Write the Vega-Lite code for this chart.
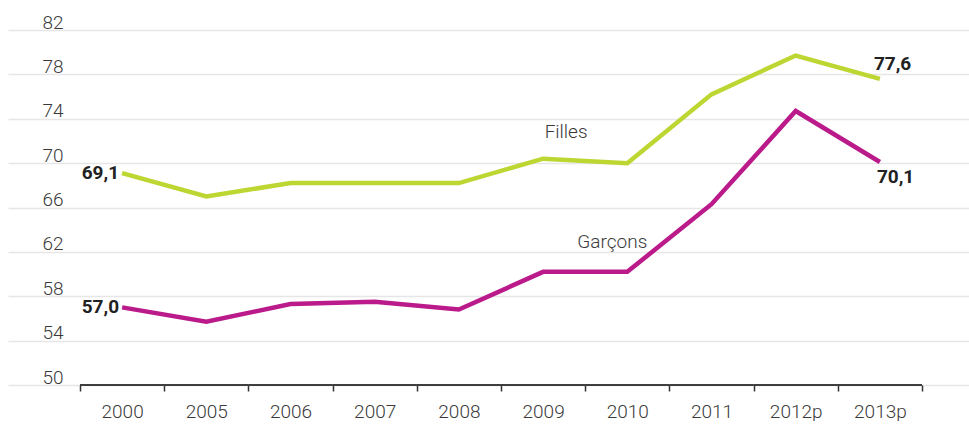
{
  "$schema": "https://vega.github.io/schema/vega-lite/v6.json",
  "width": 961,
  "height": 355,
  "padding": {"left": 8, "top": 13, "right": 0, "bottom": 0},
  "autosize": {"type": "pad"},
  "config": {
    "font": "Roboto",
    "view": {"stroke": null},
    "locale": {"number": {"decimal": ",", "thousands": " ", "grouping": [3], "currency": ["", " €"]}}
  },
  "data": {
    "values": [
      {"year": "2000", "series": "Filles", "value": 69.1},
      {"year": "2005", "series": "Filles", "value": 67.0},
      {"year": "2006", "series": "Filles", "value": 68.2},
      {"year": "2007", "series": "Filles", "value": 68.2},
      {"year": "2008", "series": "Filles", "value": 68.2},
      {"year": "2009", "series": "Filles", "value": 70.4},
      {"year": "2010", "series": "Filles", "value": 70.0},
      {"year": "2011", "series": "Filles", "value": 76.2},
      {"year": "2012p", "series": "Filles", "value": 79.7},
      {"year": "2013p", "series": "Filles", "value": 77.6},
      {"year": "2000", "series": "Garçons", "value": 57.0},
      {"year": "2005", "series": "Garçons", "value": 55.7},
      {"year": "2006", "series": "Garçons", "value": 57.3},
      {"year": "2007", "series": "Garçons", "value": 57.5},
      {"year": "2008", "series": "Garçons", "value": 56.8},
      {"year": "2009", "series": "Garçons", "value": 60.2},
      {"year": "2010", "series": "Garçons", "value": 60.2},
      {"year": "2011", "series": "Garçons", "value": 66.3},
      {"year": "2012p", "series": "Garçons", "value": 74.7},
      {"year": "2013p", "series": "Garçons", "value": 70.1}
    ]
  },
  "encoding": {
    "x": {
      "field": "year",
      "type": "ordinal",
      "sort": null,
      "bandPosition": 0.5,
      "scale": {"type": "band", "paddingInner": 0, "paddingOuter": 0.7067, "align": 0.605},
      "axis": {
        "title": null,
        "domain": false,
        "grid": false,
        "ticks": true,
        "tickBand": "extent",
        "tickSize": 6,
        "tickWidth": 1.5,
        "tickColor": "#333333",
        "labelAngle": 0,
        "labelFontSize": 19,
        "labelFontWeight": 300,
        "labelColor": "#3a3a3a",
        "labelPadding": 11
      }
    },
    "y": {
      "field": "value",
      "type": "quantitative",
      "scale": {"domain": [50, 82], "nice": false, "zero": false},
      "axis": {
        "title": null,
        "domain": false,
        "ticks": false,
        "grid": true,
        "gridColor": "#e6e6e6",
        "gridWidth": 1.5,
        "values": [50, 54, 58, 62, 66, 70, 74, 78, 82],
        "labelAlign": "left",
        "labelBaseline": "alphabetic",
        "labelPadding": -34,
        "labelOffset": -2,
        "labelFontSize": 19,
        "labelFontWeight": 300,
        "labelColor": "#3a3a3a"
      }
    },
    "color": {
      "field": "series",
      "type": "nominal",
      "scale": {"domain": ["Filles", "Garçons"], "range": ["#bdd632", "#bb1a8b"]},
      "legend": null
    }
  },
  "layer": [
    {
      "mark": {"type": "bar", "fill": null, "stroke": "#333333", "strokeWidth": 1.5},
      "encoding": {
        "x": {"field": "year", "type": "ordinal", "sort": null},
        "y": {"datum": 50},
        "y2": {"datum": 50},
        "color": {"value": null}
      }
    },
    {
      "mark": {"type": "line", "strokeWidth": 4.5, "strokeJoin": "miter"}
    },
    {
      "transform": [{"filter": "datum.year === '2009' && datum.series === 'Filles'"}],
      "mark": {"type": "text", "dx": 23, "dy": -27, "align": "center", "baseline": "middle", "fontSize": 19, "fontWeight": 300},
      "encoding": {"text": {"field": "series"}, "color": {"value": "#3a3a3a"}}
    },
    {
      "transform": [{"filter": "datum.year === '2010' && datum.series === 'Garçons'"}],
      "mark": {"type": "text", "dx": -15, "dy": -30, "align": "center", "baseline": "middle", "fontSize": 19, "fontWeight": 300},
      "encoding": {"text": {"field": "series"}, "color": {"value": "#3a3a3a"}}
    },
    {
      "transform": [{"filter": "datum.year === '2000'"}],
      "mark": {"type": "text", "dx": -3, "align": "right", "baseline": "middle", "fontSize": 19, "fontWeight": "bold"},
      "encoding": {"text": {"field": "value", "type": "quantitative", "format": ".1f"}, "color": {"value": "#222222"}}
    },
    {
      "transform": [{"filter": "datum.year === '2013p' && datum.series === 'Filles'"}],
      "mark": {"type": "text", "dx": -6, "dy": -15, "align": "left", "baseline": "middle", "fontSize": 19, "fontWeight": "bold"},
      "encoding": {"text": {"field": "value", "type": "quantitative", "format": ".1f"}, "color": {"value": "#222222"}}
    },
    {
      "transform": [{"filter": "datum.year === '2013p' && datum.series === 'Garçons'"}],
      "mark": {"type": "text", "dx": -3, "dy": 15, "align": "left", "baseline": "middle", "fontSize": 19, "fontWeight": "bold"},
      "encoding": {"text": {"field": "value", "type": "quantitative", "format": ".1f"}, "color": {"value": "#222222"}}
    }
  ]
}
